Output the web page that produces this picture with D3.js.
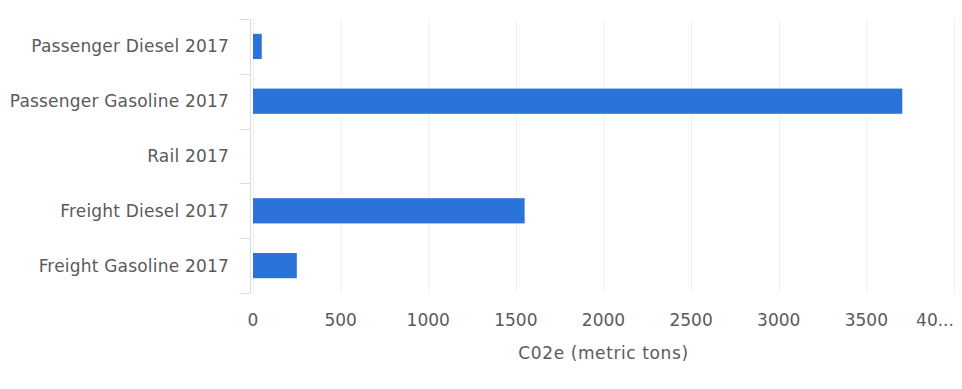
<!DOCTYPE html>
<html>
<head>
<meta charset="utf-8">
<script src="https://cdn.jsdelivr.net/npm/d3@7"></script>
<style>
  body { margin: 0; background: #fff; }
  svg { display: block; font-family: "DejaVu Sans", sans-serif; }
</style>
</head>
<body>
<div id="chart"></div>
<script>
var categories = ["Passenger Diesel 2017", "Passenger Gasoline 2017", "Rail 2017", "Freight Diesel 2017", "Freight Gasoline 2017"];
var values = [50, 3705, 0, 1550, 250];
var tickValues = [0, 500, 1000, 1500, 2000, 2500, 3000, 3500, 4000];
var tickLabels = ["0", "500", "1000", "1500", "2000", "2500", "3000", "3500", "40..."];
var axisTitle = "C02e (metric tons)";

var width = 962,
  height = 389,
  margin = { top: 19, right: 8, bottom: 96, left: 253 };

var svg = d3.select('#chart')
  .append('svg')
  .attr('width', width)
  .attr('height', height);

var x = d3.scaleLinear()
  .domain([0, 4000])
  .range([margin.left, margin.left + 701]);

var y = d3.scaleBand()
  .domain(categories)
  .range([margin.top, height - margin.bottom])
  .paddingInner(0.54)
  .paddingOuter(0.27);

var plotBottom = height - margin.bottom;
var textColour = '#5a5a5a';

// faint vertical gridlines
svg.append('g')
  .selectAll('line')
  .data(tickValues)
  .enter()
  .append('line')
  .attr('x1', function(d) { return x(d) + 0.5; })
  .attr('x2', function(d) { return x(d) + 0.5; })
  .attr('y1', margin.top)
  .attr('y2', plotBottom)
  .attr('stroke', '#f0f0f0');

// left axis line and separators between categories
var axisX = margin.left - 2.5;
svg.append('line')
  .attr('x1', axisX).attr('x2', axisX)
  .attr('y1', margin.top).attr('y2', plotBottom)
  .attr('stroke', '#d8dce6');

var step = y.step();
var bounds = categories.map(function(c) { return y(c) - (step - y.bandwidth()) / 2; });
bounds.push(plotBottom);
svg.append('g')
  .selectAll('line')
  .data(bounds)
  .enter()
  .append('line')
  .attr('x1', axisX - 11).attr('x2', axisX)
  .attr('y1', function(d) { return Math.round(d) + 0.5; })
  .attr('y2', function(d) { return Math.round(d) + 0.5; })
  .attr('stroke', '#d8dce6');

// bars
svg.append('g')
  .selectAll('rect')
  .data(values)
  .enter()
  .append('rect')
  .attr('x', x(0))
  .attr('y', function(d, i) { return y(categories[i]); })
  .attr('width', function(d) { return x(d) - x(0); })
  .attr('height', y.bandwidth())
  .attr('fill', '#2b73d8');

// category labels
svg.append('g')
  .selectAll('text')
  .data(categories)
  .enter()
  .append('text')
  .attr('x', 229)
  .attr('y', function(d) { return y(d) + y.bandwidth() / 2; })
  .attr('dy', '0.35em')
  .attr('text-anchor', 'end')
  .attr('font-size', '17px')
  .attr('letter-spacing', '0.2px')
  .attr('fill', textColour)
  .text(function(d) { return d; });

// x tick labels
svg.append('g')
  .selectAll('text')
  .data(tickValues)
  .enter()
  .append('text')
  .attr('x', function(d, i) { return i === tickValues.length - 1 ? x(d) - 19 : x(d); })
  .attr('y', 320)
  .attr('dy', '0.35em')
  .attr('text-anchor', 'middle')
  .attr('font-size', '17px')
  .attr('fill', textColour)
  .text(function(d, i) { return tickLabels[i]; });

// axis title
svg.append('text')
  .attr('x', (x(0) + x(4000)) / 2)
  .attr('y', 353)
  .attr('dy', '0.35em')
  .attr('text-anchor', 'middle')
  .attr('font-size', '17px')
  .attr('letter-spacing', '0.6px')
  .attr('fill', textColour)
  .text(axisTitle);
</script>
</body>
</html>
